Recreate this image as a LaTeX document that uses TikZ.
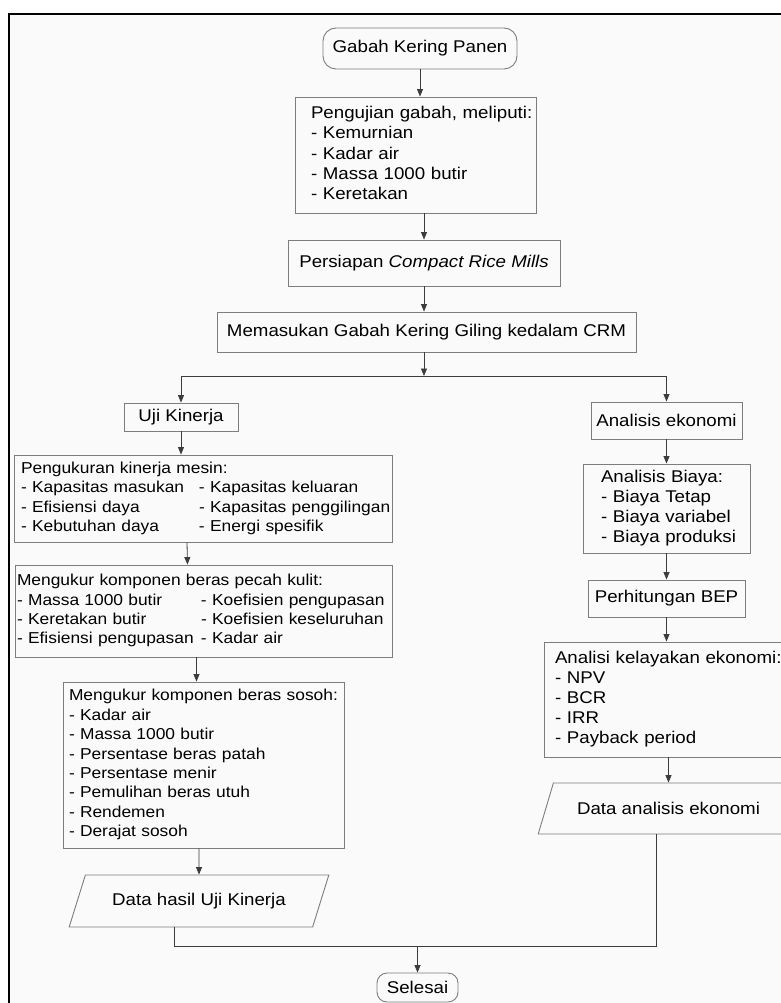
\documentclass[tikz,border=0pt]{standalone}
\usepackage{fontspec}
\setmainfont{Liberation Sans}[FakeStretch=1.1]
\usetikzlibrary{shapes.geometric,arrows.meta}
\definecolor{paper}{RGB}{250,250,250}
\definecolor{edge}{RGB}{125,125,125}
\definecolor{wire}{RGB}{60,60,60}

\begin{document}
\begin{tikzpicture}[x=1pt, y=-1pt,
  every node/.style = {font=\fontsize{17}{20}\selectfont, inner sep=0pt},
  box/.style = {rectangle, draw=edge, line width=0.9pt, fill=paper},
  term/.style = {box, rounded corners=13pt},
  datanode/.style = {box, trapezium, trapezium stretches=true,
    trapezium left angle=52, trapezium right angle=128},
  list/.style = {box, text width=#1, align=left},
  small/.style = {font=\fontsize{15.8}{19.4}\selectfont},
  conn/.style = {draw=wire, line width=0.8pt},
  >={Triangle[length=7.5pt,width=6pt]}
  ]
  \useasboundingbox (0,0) rectangle (781,1003);
  \clip (0,0) rectangle (781,1003);
  \fill[white] (0,0) rectangle (781,1003);
  \draw[line width=2.5pt, fill=paper] (9,14) rectangle (800,1020);

  % top part
  \node[term, minimum width=194pt, minimum height=41pt] (n1) at (420,48.5) {Gabah Kering Panen};
  \node[list=241pt, minimum height=116pt] (n2) at (415.5,155)
    {\begin{tabular}{@{\hspace{16pt}}l@{}}Pengujian gabah, meliputi:\\- Kemurnian\\- Kadar air\\- Massa 1000 butir\\- Keretakan\end{tabular}};
  \node[box, minimum width=272pt, minimum height=46pt] (n3) at (424,263) {Persiapan \textit{Compact Rice Mills}};
  \node[box, minimum width=419pt, minimum height=40pt] (n4) at (426.5,332) {Memasukan Gabah Kering Giling kedalam CRM};
  \coordinate (split) at (424,376);

  % uji kinerja
  \node[box, minimum width=114pt, minimum height=28pt] (n5) at (181,417) {Uji Kinerja};
  \node[list=378pt, small, minimum height=87pt] (n6) at (203,498.5)
    {\begin{tabular}{@{\hspace{7pt}}p{178pt}@{}l@{}}\multicolumn{2}{@{\hspace{7pt}}l@{}}{Pengukuran kinerja mesin:}\\
     - Kapasitas masukan & - Kapasitas keluaran\\- Efisiensi daya & - Kapasitas penggilingan\\- Kebutuhan daya & - Energi spesifik\end{tabular}};
  \node[list=377pt, small, minimum height=92pt] (n7) at (203.5,611)
    {\begin{tabular}{@{\hspace{2pt}}p{184pt}@{}l@{}}\multicolumn{2}{@{\hspace{2pt}}l@{}}{Mengukur komponen beras pecah kulit:}\\
     - Massa 1000 butir & - Koefisien pengupasan\\- Keretakan butir & - Koefisien keseluruhan\\- Efisiensi pengupasan & - Kadar air\end{tabular}};
  \node[list=281pt, small, minimum height=166pt] (n8) at (203.5,765)
    {\begin{tabular}{@{\hspace{6pt}}l@{}}Mengukur komponen beras sosoh:\\- Kadar air\\- Massa 1000 butir\\- Persentase beras patah\\
     - Persentase menir\\- Pemulihan beras utuh\\- Rendemen\\- Derajat sosoh\end{tabular}};
  \node[datanode, minimum width=260pt, minimum height=52pt] (n9) at (199,901) {Data hasil Uji Kinerja};

  % analisis ekonomi
  \node[box, minimum width=151pt, minimum height=37pt] (n10) at (666.5,420.5) {Analisis ekonomi};
  \node[list=167pt, minimum height=89pt] (n11) at (666.5,508.5)
    {\begin{tabular}{@{\hspace{18pt}}l@{}}Analisis Biaya:\\- Biaya Tetap\\- Biaya variabel\\- Biaya produksi\end{tabular}};
  \node[box, minimum width=157pt, minimum height=37pt] (n12) at (666.5,598.5) {Perhitungan BEP};
  \node[list=249pt, minimum height=115pt] (n13) at (668.5,699.5)
    {\begin{tabular}{@{\hspace{11pt}}l@{}}Analisi kelayakan ekonomi:\\- NPV\\- BCR\\- IRR\\- Payback period\end{tabular}};
  \node[datanode, trapezium left angle=46, trapezium right angle=134, minimum width=261pt, minimum height=51pt] (n14) at (668.5,808.5) {Data analisis ekonomi};

  \node[term, rounded corners=10pt, minimum width=81pt, minimum height=29pt] (n15) at (417.5,987.5) {Selesai};
  \coordinate (merge) at (417.5,946);

  % connectors
  \draw[conn,->] (n1) -- (n1 |- n2.north);
  \draw[conn,->] (n3 |- n2.south) -- (n3);
  \draw[conn,->] (n3) -- (n3 |- n4.north);
  \draw[conn,->] (split |- n4.south) -- (split);
  \draw[conn,->] (split) -| (n5);
  \draw[conn,->] (split) -| (n10);
  \draw[conn,->] (n5) -- (n5 |- n6.north);
  \draw[conn,->] ([xshift=-16pt]n6.south) -- ([xshift=-16pt]n7.north);
  \draw[conn,->] ([xshift=-7pt]n7.south) -- ([xshift=-7pt]n8.north);
  \draw[conn,->] (n8.south -| n9) -- (n9);
  \draw[conn,->] (n10) -- (n11);
  \draw[conn,->] (n11) -- (n12);
  \draw[conn,->] (n12) -- (n12 |- n13.north);
  \draw[conn,->] (n13) -- (n14);
  \draw[conn] ([xshift=-25pt]n9.south) |- (merge) -| ([xshift=-12.5pt]n14.south);
  \draw[conn,->] (merge) -- (n15);
\end{tikzpicture}
\end{document}
